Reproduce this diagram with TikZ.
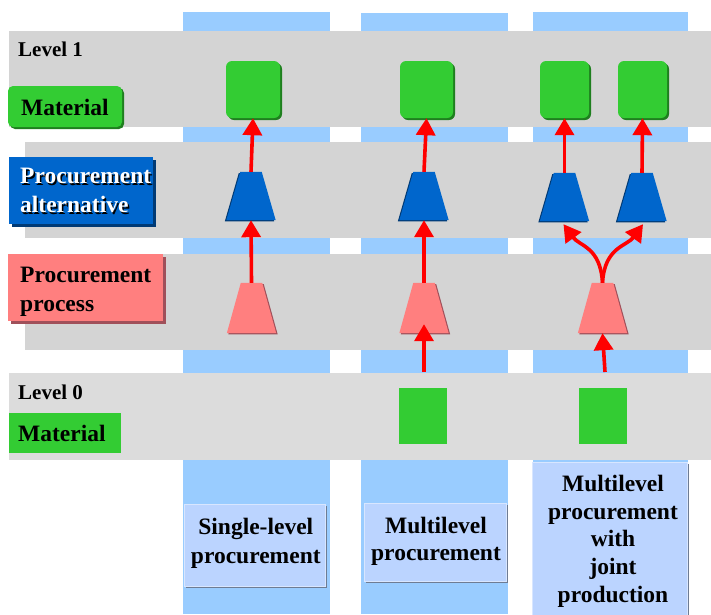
\documentclass[tikz,border=0pt]{standalone}
\usepackage{fontspec}
\setmainfont{Liberation Serif}
\usetikzlibrary{arrows.meta,shadows}
\definecolor{colblue}{HTML}{99CCFF}
\definecolor{band}{HTML}{D4D4D4}
\definecolor{bandlight}{HTML}{DCDCDC}
\definecolor{matgreen}{HTML}{33CC33}
\definecolor{matshadow}{HTML}{1F7F1F}
\definecolor{altblue}{HTML}{0066CC}
\definecolor{altshadow}{HTML}{003A75}
\definecolor{procpink}{HTML}{FF7F7F}
\definecolor{procshadow}{HTML}{A0505A}
\definecolor{boxblue}{HTML}{BBD4FF}
\definecolor{boxshadow}{HTML}{6E7C94}
\definecolor{boxlight}{HTML}{D8E6FF}
\newcommand\traprun[4]{%
  \fill[#2] ([xshift=#3,yshift=#4]#1.south west) -- ([xshift=#3+14pt,yshift=#4]#1.north west)
    -- ([xshift=#3-14pt,yshift=#4]#1.north east) -- ([xshift=#3,yshift=#4]#1.south east) -- cycle;}
\begin{document}
\begin{tikzpicture}[x=1pt,y=-1pt,
  bigfont/.style={font=\fontsize{23.5}{29}\selectfont\bfseries},
  lvlfont/.style={font=\fontsize{21}{25}\selectfont\bfseries},
  txt/.style={inner sep=0pt, align=left, anchor=west},
  ctxt/.style={inner sep=0pt, align=center, bigfont},
  matbox/.style={draw=none, fill=matgreen, rounded corners=6pt, inner sep=0pt,
    general shadow={fill=matshadow, shadow xshift=2pt, shadow yshift=-2pt}},
  matsq/.style={fill=matgreen, inner sep=0pt, minimum width=48pt, minimum height=56pt},
  trapnode/.style={rectangle, inner sep=0pt, minimum width=49pt},
  altshape/.style={trapnode, minimum height=48pt},
  procshape/.style={trapnode, minimum height=50pt},
  labbox/.style={inner sep=0pt, draw=none},
  botbox/.style={fill=boxblue, draw=boxlight, line width=1pt, inner sep=0pt,
    general shadow={fill=boxshadow, shadow xshift=2pt, shadow yshift=-2pt}},
  arr/.style={draw=red, line width=3.6pt, -{Triangle[width=19pt,length=17pt]}}
]
\useasboundingbox (0,0) rectangle (711,614);
% columns
\fill[colblue] (183,12) rectangle (330,614);
\fill[colblue] (361,13) rectangle (508,614);
\fill[colblue] (533,12) rectangle (688,614);
% bands
\fill[band] (9,31) rectangle (711,127);
\fill[band] (25,142) rectangle (711,238);
\fill[band] (25,254) rectangle (711,350);
\fill[bandlight] (9,373) rectangle (711,460);

% left labels
\node[lvlfont, txt, anchor=base west] (lvl1) at (18,56) {Level 1};
\node[labbox, fill=matgreen, rounded corners=5pt, minimum width=114pt, minimum height=41pt,
  general shadow={fill=matshadow, shadow xshift=2pt, shadow yshift=-2pt}] (matlab1box) at (65,106.5) {};
\node[bigfont, txt] (matlab1) at (21,107.2) {Material};

\node[labbox, fill=altblue, minimum width=144pt, minimum height=67pt,
  general shadow={fill=altshadow, shadow xshift=2.5pt, shadow yshift=-2.5pt}] (altlabbox) at (81,190.5) {};
\node[bigfont, txt, text=black] (altlabsh) at (21.5,192.2) {Procurement\\alternative};
\node[bigfont, txt, text=white] (altlab) at (20,190.7) {Procurement\\alternative};

\node[labbox, fill=procpink, minimum width=155pt, minimum height=67pt,
  general shadow={fill=procshadow, shadow xshift=3pt, shadow yshift=-3pt}] (proclabbox) at (85.5,287.5) {};
\node[bigfont, txt] (proclab) at (20,291.3) {Procurement\\process};

\node[lvlfont, txt, anchor=base west] (lvl0) at (18,399) {Level 0};
\node[labbox, fill=matgreen, minimum width=112pt, minimum height=40pt] (matlab0box) at (65,433) {};
\node[bigfont, txt] (matlab0) at (18,433.2) {Material};

% level 1 materials
\node[matbox, minimum width=54pt, minimum height=57pt] (m1) at (253,89.5) {};
\node[matbox, minimum width=53pt, minimum height=57pt] (m2) at (426.5,89.5) {};
\node[matbox, minimum width=49pt, minimum height=57pt] (m3a) at (564.5,89.5) {};
\node[matbox, minimum width=49pt, minimum height=57pt] (m3b) at (642.5,89.5) {};

% procurement alternatives
\node[altshape] (a1) at (251,196) {};
\node[altshape] (a2) at (424,196) {};
\node[altshape] (a3a) at (564.5,197) {};
\node[altshape] (a3b) at (642,197) {};
\foreach \n in {a1,a2,a3a,a3b}{
  \traprun{\n}{altshadow}{-1.5pt}{-1.2pt}
  \traprun{\n}{altblue}{0pt}{0pt}
}

% procurement processes
\node[procshape] (p1) at (251.5,308) {};
\node[procshape] (p2) at (424,308) {};
\node[procshape] (p3) at (602.5,308) {};
\foreach \n in {p1,p2,p3}{
  \traprun{\n}{procshadow}{1.5pt}{-1.2pt}
  \traprun{\n}{procpink}{0pt}{0pt}
}

% level 0 materials
\node[matsq] (z2) at (423,416) {};
\node[matsq] (z3) at (603,416) {};
\coordinate (s2) at (424,372);
\coordinate (s3) at (605,372);

% arrows
\draw[arr] (a1.north) -- (m1.south);
\draw[arr] (p1.north) -- (a1.south);
\draw[arr] (a2.north) -- (m2.south);
\draw[arr] (p2.north) -- (a2.south);
\draw[arr] (s2) -- ([yshift=9pt]p2.south);
\draw[arr] (a3a.north) -- (m3a.south);
\draw[arr] (a3b.north) -- (m3b.south);
\draw[arr] (s3) -- (p3.south);
\draw[arr] (p3.north) .. controls +(-2,-36) and +(16,22) .. ([xshift=-1pt,yshift=-3pt]a3a.south);
\draw[arr] (p3.north) .. controls +(2,-36) and +(-16,22) .. ([xshift=1pt,yshift=-3pt]a3b.south);

% bottom boxes
\node[botbox, minimum width=141pt, minimum height=82pt] (b1) at (254.5,545) {};
\node[ctxt, font=\fontsize{23.5}{29}\selectfont\bfseries] (b1t) at (255.8,543.2) {Single-level\\procurement};
\node[botbox, minimum width=142pt, minimum height=78pt] (b2) at (435,542) {};
\node[ctxt, font=\fontsize{23.5}{27.5}\selectfont\bfseries] (b2t) at (436,541.2) {Multilevel\\procurement};
\node[botbox, minimum width=155pt, minimum height=160pt] (b3) at (609.5,542) {};
\node[ctxt, font=\fontsize{23.5}{27.75}\selectfont\bfseries] (b3t) at (613,541.2) {Multilevel\\procurement\\with\\joint\\production};
\end{tikzpicture}
\end{document}
